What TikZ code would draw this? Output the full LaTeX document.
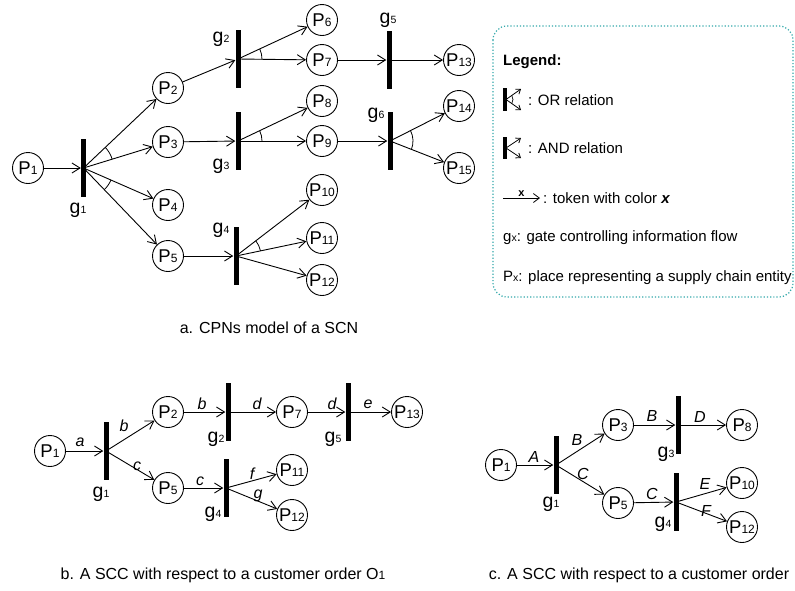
\documentclass[tikz,border=0pt]{standalone}
\usepackage{fontspec}
\setmainfont{Liberation Sans}
\usetikzlibrary{arrows.meta,angles}
\definecolor{legendteal}{RGB}{50,168,170}
% small index set on the baseline, as in P13 or g4
\newcommand\idx[1]{{\fontsize{12}{12}\selectfont #1}}
\newcommand\gidx[1]{{\fontsize{10.5}{10.5}\selectfont #1}}
\newcommand\pname[1]{\makebox[0pt]{P\idx{#1}}}
\newcommand\gname[1]{g\gidx{#1}}
\tikzset{
  place/.style={circle,draw,line width=0.9pt,minimum size=31pt,inner sep=0pt,
    font=\fontsize{18.5}{18.5}\selectfont},
  gate/.style={fill=black,minimum width=5pt,minimum height=58pt,inner sep=0pt},
  glabel/.style={font=\fontsize{19.5}{19.5}\selectfont,inner sep=0pt},
  arr/.style={line width=0.9pt,-{Straight Barb[length=8pt,width=10pt]}},
  tok/.style={font=\fontsize{16}{16}\selectfont\itshape,inner sep=0pt},
  orarc/.style={draw,line width=0.8pt},
  caption/.style={font=\fontsize{16}{16}\selectfont,inner sep=0pt},
  legtext/.style={font=\fontsize{15}{15}\selectfont,inner sep=0pt,anchor=west},
  legarr/.style={line width=0.8pt,-{Straight Barb[length=4pt,width=6pt]}},
}
\begin{document}
\begin{tikzpicture}[x=1pt,y=-1pt]
\useasboundingbox (0,0) rectangle (795,590);

% ---------- a. CPNs model of a SCN ----------
\node[place] (P1)  at (28,168)  {\pname{1}};
\node[gate]  (g1)  at (83.5,168) {};
\node[place] (P2)  at (168,88)  {\pname{2}};
\node[place] (P3)  at (168,142) {\pname{3}};
\node[place] (P4)  at (168,205) {\pname{4}};
\node[place] (P5)  at (168,256) {\pname{5}};
\node[gate]  (g2)  at (238,59)  {};
\node[gate]  (g3)  at (238,141) {};
\node[gate]  (g4)  at (236,256) {};
\node[place] (P6)  at (322,20)  {\pname{6}};
\node[place] (P7)  at (322,60)  {\pname{7}};
\node[place] (P8)  at (322,101) {\pname{8}};
\node[place] (P9)  at (322,141) {\pname{9}};
\node[place] (P10) at (322,190) {\pname{10}};
\node[place] (P11) at (322,238) {\pname{11}};
\node[place] (P12) at (322,280) {\pname{12}};
\node[gate]  (g5)  at (389,60)  {};
\node[gate]  (g6)  at (390,141) {};
\node[place] (P13) at (459,60)  {\pname{13}};
\node[place] (P14) at (459,106) {\pname{14}};
\node[place] (P15) at (459,168) {\pname{15}};

\node[glabel] (lg1) at (78,210)  {\gname{1}};
\node[glabel] (lg2) at (221,39)  {\gname{2}};
\node[glabel] (lg3) at (221,166) {\gname{3}};
\node[glabel] (lg4) at (221,230) {\gname{4}};
\node[glabel] (lg5) at (388,20)  {\gname{5}};
\node[glabel] (lg6) at (376,115) {\gname{6}};

\draw[arr] (P1) -- (g1);
\foreach \p in {P2,P3,P4,P5} \draw[arr] (g1.center) -- (\p);
\draw[arr] (P2) -- (g2);
\draw[arr] (P3) -- (g3);
\draw[arr] (P5) -- (g4);
\foreach \p in {P6,P7} \draw[arr] (g2.center) -- (\p);
\foreach \p in {P8,P9} \draw[arr] (g3.center) -- (\p);
\foreach \p in {P10,P11,P12} \draw[arr] (g4.center) -- (\p);
\draw[arr] (P7) -- (g5);
\draw[arr] (g5.center) -- (P13);
\draw[arr] (P9) -- (g6);
\foreach \p in {P14,P15} \draw[arr] (g6.center) -- (\p);

% OR relations
\pic[orarc,angle radius=30pt] {angle=P3--g1--P2};
\pic[orarc,angle radius=30pt] {angle=P5--g1--P4};
\pic[orarc,angle radius=24pt] {angle=P7--g2--P6};
\pic[orarc,angle radius=24pt] {angle=P9--g3--P8};
\pic[orarc,angle radius=25pt] {angle=P11--g4--P10};
\pic[orarc,angle radius=23pt] {angle=P15--g6--P14};

\node[caption] (capa) at (269,328) {a. CPNs model of a SCN};

% ---------- legend ----------
\draw[legendteal,dotted,line width=1.2pt,rounded corners=14pt] (493,26) rectangle (793,297);
\node[legtext,font=\fontsize{15}{15}\selectfont\bfseries] (leg) at (503,62) {Legend:};
% OR symbol
\draw[line width=3.5pt] (505,88) -- (505,111);
\draw[legarr] (506,99.5) -- (521,89);
\draw[legarr] (506,99.5) -- (521,110);
\draw[line width=0.7pt] (506,99.5) ++(-35:7) arc[start angle=-35,end angle=35,radius=7];
\node[legtext] (lor) at (528,100) {: OR relation};
% AND symbol
\draw[line width=3.5pt] (505,137) -- (505,159);
\draw[legarr] (506,148) -- (521,138);
\draw[legarr] (506,148) -- (521,158);
\node[legtext] (land) at (528,148) {: AND relation};
% token
\coordinate (t0) at (503,198);
\coordinate (t1) at (540,198);
\draw[line width=0.8pt,-{Straight Barb[length=6pt,width=9pt]}] (t0) -- node[above=1pt,inner sep=0pt,font=\fontsize{11}{11}\selectfont\bfseries] {x} (t1);
\node[legtext] (ltok) at (543,198) {: token with color \textbf{\textit{x}}};
\node[legtext] (lg) at (503,238) {g\gidx{x}: gate controlling information flow};
\node[legtext] (lp) at (503,278) {P\gidx{x}: place representing a supply chain entity};

% ---------- b. SCC for customer order O1 ----------
\node[place] (bP1)  at (50,451)  {\pname{1}};
\node[gate]  (bg1)  at (106,451) {};
\node[place] (bP2)  at (168,412) {\pname{2}};
\node[place] (bP5)  at (168,488) {\pname{5}};
\node[gate]  (bg2)  at (228,412) {};
\node[place] (bP7)  at (292,412) {\pname{7}};
\node[gate]  (bg5)  at (348,412) {};
\node[place] (bP13) at (407,412) {\pname{13}};
\node[gate]  (bg4)  at (226,488) {};
\node[place] (bP11) at (292,470) {\pname{11}};
\node[place] (bP12) at (292,515) {\pname{12}};

\node[glabel] (blg1) at (101,494) {\gname{1}};
\node[glabel] (blg2) at (216,439) {\gname{2}};
\node[glabel] (blg5) at (333,439) {\gname{5}};
\node[glabel] (blg4) at (213,514) {\gname{4}};

\draw[arr] (bP1) -- (bg1);
\draw[arr] (bg1.center) -- (bP2);
\draw[arr] (bg1.center) -- (bP5);
\draw[arr] (bP2) -- (bg2);
\draw[arr] (bg2.center) -- (bP7);
\draw[arr] (bP7) -- (bg5);
\draw[arr] (bg5.center) -- (bP13);
\draw[arr] (bP5) -- (bg4);
\draw[arr] (bg4.center) -- (bP11);
\draw[arr] (bg4.center) -- (bP12);

\node[tok] at (80,442)  {a};
\node[tok] at (124,426) {b};
\node[tok] at (137,466) {c};
\node[tok] at (202,404) {b};
\node[tok] at (257,404) {d};
\node[tok] at (332,404) {d};
\node[tok] at (368,404) {e};
\node[tok] at (200,481) {c};
\node[tok] at (252,474) {f};
\node[tok] at (258,496) {g};

\node[caption] (capb) at (223,575) {b. A SCC with respect to a customer order O\idx{1}};

% ---------- c. SCC for a customer order ----------
\node[place] (cP1)  at (501,465) {\pname{1}};
\node[gate]  (cg1)  at (556,465) {};
\node[place] (cP3)  at (618,425) {\pname{3}};
\node[place] (cP5)  at (618,503) {\pname{5}};
\node[gate]  (cg3)  at (678,425) {};
\node[place] (cP8)  at (742,425) {\pname{8}};
\node[gate]  (cg4)  at (676,502) {};
\node[place] (cP10) at (742,483) {\pname{10}};
\node[place] (cP12) at (742,527) {\pname{12}};

\node[glabel] (clg1) at (551,504) {\gname{1}};
\node[glabel] (clg3) at (666,454) {\gname{3}};
\node[glabel] (clg4) at (663,524) {\gname{4}};

\draw[arr] (cP1) -- (cg1);
\draw[arr] (cg1.center) -- (cP3);
\draw[arr] (cg1.center) -- (cP5);
\draw[arr] (cP3) -- (cg3);
\draw[arr] (cg3.center) -- (cP8);
\draw[arr] (cP5) -- (cg4);
\draw[arr] (cg4.center) -- (cP10);
\draw[arr] (cg4.center) -- (cP12);

\node[tok] at (534,457) {A};
\node[tok] at (577,440) {B};
\node[tok] at (583,474) {C};
\node[tok] at (652,416) {B};
\node[tok] at (700,417) {D};
\node[tok] at (652,494) {C};
\node[tok] at (705,484) {E};
\node[tok] at (706,511) {F};

\node[caption] (capc) at (639,575) {c. A SCC with respect to a customer order};
\end{tikzpicture}
\end{document}
